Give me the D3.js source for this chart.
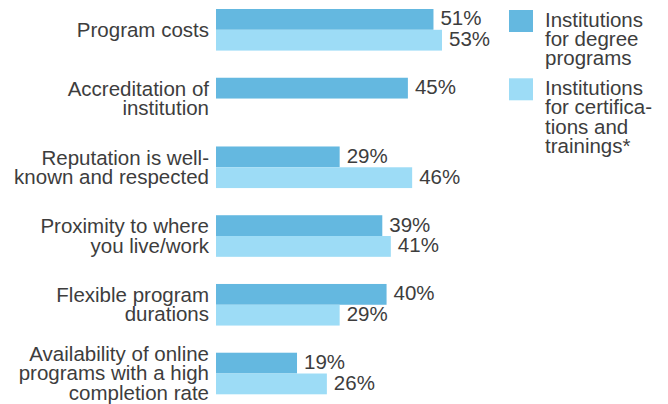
<!DOCTYPE html>
<html>
<head>
<meta charset="utf-8">
<script src="https://cdn.jsdelivr.net/npm/d3@7"></script>
<style>
  html, body { margin: 0; padding: 0; background: #fff; }
  svg { display: block; }
  text { font-family: "Liberation Sans", Arial, sans-serif; fill: #3d3d3d; }
</style>
</head>
<body>
<div id="chart"></div>
<script>
// Survey factors, one entry per row; label lines are drawn stacked
const categories = [
  "Program costs",
  "Accreditation of institution",
  "Reputation is well-known and respected",
  "Proximity to where you live/work",
  "Flexible program durations",
  "Availability of online programs with a high completion rate"
];
const categoryLines = [
  ["Program costs"],
  ["Accreditation of", "institution"],
  ["Reputation is well-", "known and respected"],
  ["Proximity to where", "you live/work"],
  ["Flexible program", "durations"],
  ["Availability of online", "programs with a high", "completion rate"]
];
const seriesNames = ["degree", "cert"];
const degreeValues = [51, 45, 29, 39, 40, 19];
const certValues = [53, null, 46, 41, 29, 26];
const legendLines = [
  ["Institutions", "for degree", "programs"],
  ["Institutions", "for certifica-", "tions and", "trainings*"]
];
const colors = ["#64b8e0", "#9ddcf6"];

const W = 668, H = 404;
const svg = d3.select("#chart").append("svg")
  .attr("width", W).attr("height", H);

const y = d3.scaleBand()
  .domain(categories)
  .range([9, 394.3])
  .paddingInner(0.395)
  .paddingOuter(0);

const ySub = d3.scaleBand()
  .domain(seriesNames)
  .range([0, y.bandwidth()]);

const x = d3.scaleLinear().domain([0, 53]).range([216, 442]);

const rows = categories.map((c, i) => ({
  cat: c,
  lines: categoryLines[i],
  vals: [
    { s: "degree", v: degreeValues[i] },
    { s: "cert", v: certValues[i] }
  ].filter(d => d.v != null)
}));

const fontSize = 20.5, lineH = 19.3;

const g = svg.selectAll("g.row").data(rows).join("g")
  .attr("class", "row")
  .attr("transform", d => `translate(0,${y(d.cat)})`);

// bars
g.selectAll("rect").data(d => d.vals).join("rect")
  .attr("x", x(0))
  .attr("y", d => ySub(d.s))
  .attr("width", d => x(d.v) - x(0))
  .attr("height", ySub.bandwidth())
  .attr("fill", d => colors[seriesNames.indexOf(d.s)]);

// value labels
g.selectAll("text.val").data(d => d.vals).join("text")
  .attr("class", "val")
  .attr("x", d => x(d.v) + 7)
  .attr("y", d => ySub(d.s) + ySub.bandwidth() / 2 + 6)
  .attr("font-size", fontSize)
  .text(d => d.v + "%");

// category labels, right-aligned and centred on the row
g.append("text")
  .attr("class", "cat")
  .attr("text-anchor", "end")
  .attr("font-size", fontSize)
  .each(function (d) {
    const n = d.lines.length;
    const mid = y.bandwidth() / 2;
    const first = mid - (n - 1) * lineH / 2 + 7;
    d3.select(this).selectAll("tspan").data(d.lines).join("tspan")
      .attr("x", 209)
      .attr("y", (t, j) => first + j * lineH)
      .text(t => t);
  });

// legend
const legendTop = [10, 78.3];
const lg = svg.selectAll("g.legend").data(legendLines).join("g")
  .attr("class", "legend")
  .attr("transform", (d, i) => `translate(509,${legendTop[i]})`);

lg.append("rect")
  .attr("width", 24).attr("height", 22)
  .attr("fill", (d, i) => colors[i]);

lg.append("text")
  .attr("font-size", fontSize)
  .each(function (d) {
    d3.select(this).selectAll("tspan").data(d).join("tspan")
      .attr("x", 36)
      .attr("y", (t, j) => 16.7 + j * lineH)
      .text(t => t);
  });
</script>
</body>
</html>
